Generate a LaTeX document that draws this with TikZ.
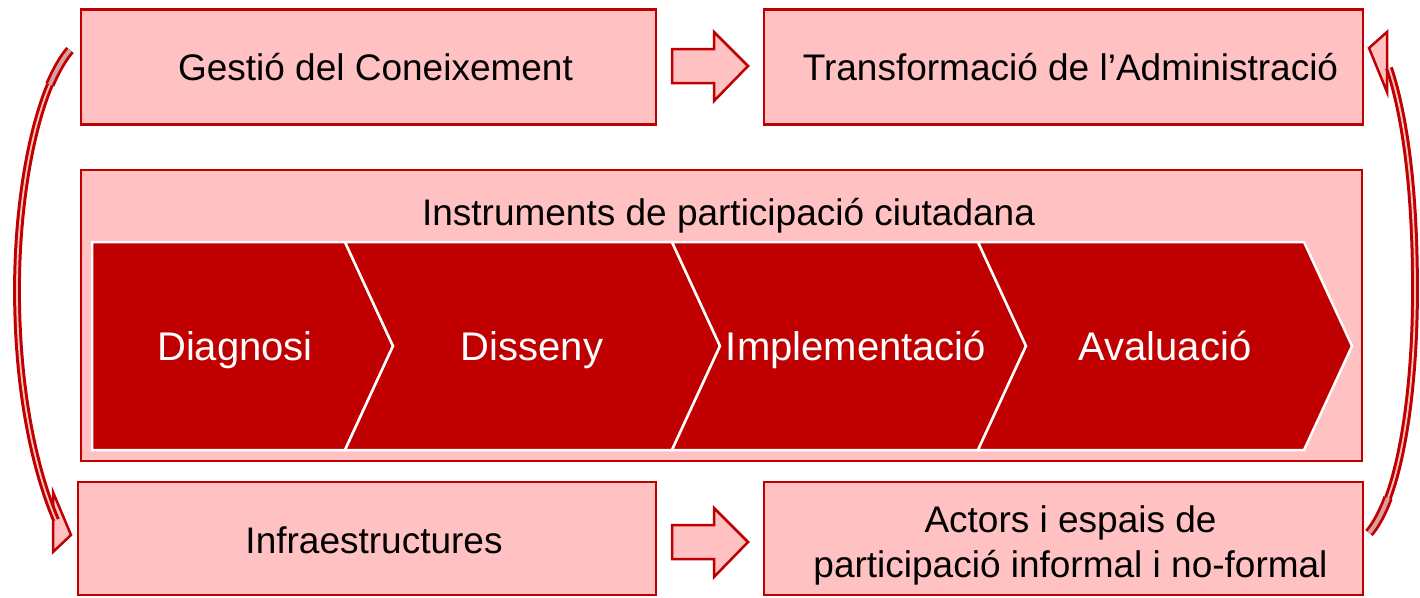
\documentclass[tikz,border=0pt]{standalone}
\usepackage{fontspec}
\setmainfont{Liberation Sans}
\definecolor{boxfill}{HTML}{FFC1C1}
\definecolor{boxline}{HTML}{C00000}
\definecolor{chevfill}{HTML}{C00000}
\definecolor{tailfill}{HTML}{D9A0A0}
\tikzset{
  box/.style={draw=boxline, fill=boxfill, line width=2.5pt, inner sep=0pt},
  boxtext/.style={font=\fontsize{37}{44}\selectfont, text=black, anchor=base, align=center, inner sep=0pt},
  chevtext/.style={font=\fontsize{40}{48}\selectfont, text=white, anchor=base, inner sep=0pt},
  chev/.style={fill=chevfill, draw=white, line width=2.5pt, line join=miter},
  blockarrow/.style={fill=boxfill, draw=boxline, line width=2.5pt, line join=miter},
  band/.style={draw=boxline, line width=3pt, double=boxfill, double distance=1.8pt},
  tailband/.style={draw=boxline, line width=2.8pt, double=tailfill, double distance=4pt},
}
\begin{document}
\begin{tikzpicture}[x=1pt,y=-1pt]
\useasboundingbox (0,0) rectangle (1420,597);
% boxes
\node[box, minimum width=575pt, minimum height=115pt] (gestio) at (368.5,67) {};
\node[boxtext] (tgestio) at (375.5,80) {Gestió del Coneixement};
\node[box, minimum width=599pt, minimum height=115pt] (transf) at (1063.5,67) {};
\node[boxtext] (ttransf) at (1070.5,80) {Transformació de l’Administració};
\node[box, minimum width=1281pt, minimum height=291pt] (instr) at (721.5,315.5) {};
\node[boxtext] (tinstr) at (728.5,225) {Instruments de participació ciutadana};
\node[box, minimum width=578pt, minimum height=113pt] (infra) at (367,538.5) {};
\node[boxtext] (tinfra) at (374,553) {Infraestructures};
\node[box, minimum width=599pt, minimum height=113pt] (actors) at (1063.5,538.5) {};
\node[boxtext] (tact1) at (1070.5,532) {Actors i espais de};
\node[boxtext] (tact2) at (1070.5,577) {participació informal i no-formal};
% chevrons
\draw[chev] (92,242) -- (345,242) -- (393,346) -- (345,450) -- (92,450) -- cycle;
\draw[chev] (345,242) -- (672,242) -- (720,346) -- (672,450) -- (345,450) -- (393,346) -- cycle;
\draw[chev] (672,242) -- (978,242) -- (1026,346) -- (978,450) -- (672,450) -- (720,346) -- cycle;
\draw[chev] (978,242) -- (1304,242) -- (1352,346) -- (1304,450) -- (978,450) -- (1026,346) -- cycle;
\node[chevtext] (c1) at (235,360) {Diagnosi};
\node[chevtext] (c2) at (532,360) {Disseny};
\node[chevtext] (c3) at (856,360) {Implementació};
\node[chevtext] (c4) at (1165,360) {Avaluació};
% block arrows
\draw[blockarrow] (672,49) -- (714,49) -- (714,32) -- (748,66) -- (714,101) -- (714,83) -- (672,83) -- cycle;
\draw[blockarrow] (672,525) -- (714,525) -- (714,508) -- (748,542) -- (714,577) -- (714,559) -- (672,559) -- cycle;
% curved arrow left
\coordinate (lt) at (70,50);
\coordinate (ls) at (49.9,84.7);
\coordinate (lm) at (17,290);
\coordinate (le) at (56,520);
\draw[blockarrow] (53,492) -- (71,535) -- (53,552) -- cycle;
\draw[tailband] (lt) .. controls (63.5,57.5) and (56.4,69.4) .. (ls);
\draw[band] (ls) .. controls (30.5,130.6) and (17,207.5) .. (lm) .. controls (17,400) and (38,478) .. (le);
% curved arrow right
\coordinate (rt) at (1369,533);
\coordinate (rs) at (1388,497.8);
\coordinate (rm) at (1415,290);
\coordinate (re) at (1389,68);
\draw[blockarrow] (1387,32) -- (1369,48) -- (1387,92) -- cycle;
\draw[tailband] (rt) .. controls (1375.5,525.5) and (1382.2,513.4) .. (rs);
\draw[band] (rs) .. controls (1405.4,451.1) and (1415,372.5) .. (rm) .. controls (1415,180) and (1403,110) .. (re);
\end{tikzpicture}
\end{document}
